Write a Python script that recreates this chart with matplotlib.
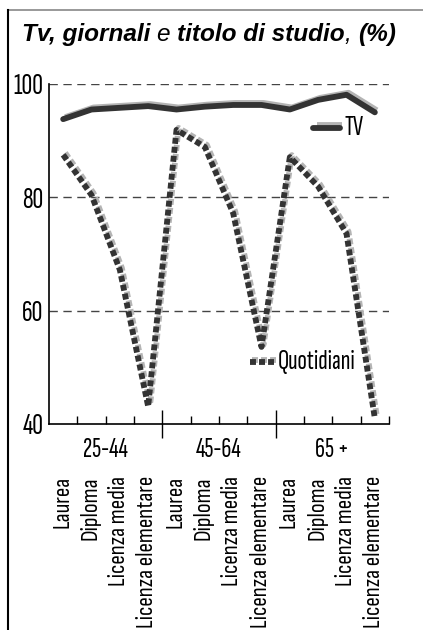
import matplotlib
matplotlib.use("Agg")
import matplotlib.pyplot as plt
import matplotlib.transforms as mtransforms
from matplotlib.lines import Line2D
import numpy as np

# ---- data -------------------------------------------------------------
age_groups = ["25-44", "45-64", "65 +"]
education = ["Laurea", "Diploma", "Licenza media", "Licenza elementare"]
tv = [93.8, 95.5, 95.8, 96.1, 95.5, 96.0, 96.3, 96.3, 95.5, 97.2, 98.1, 95.0]
quotidiani = [87.5, 80.4, 67.2, 43.1, 91.9, 88.9, 77.2, 53.6, 87.1, 81.9, 73.6, 41.0]
y_ticks = [40, 60, 80, 100]

NARROW = ["Sofia Sans Condensed", "PT Sans Narrow", "DejaVu Sans"]
XNARROW = ["Sofia Sans Extra Condensed", "Sofia Sans Condensed", "DejaVu Sans"]
DARK = "#333333"
SHADE = "#b4b4b4"

plt.rcParams["lines.scale_dashes"] = False

fig = plt.figure(figsize=(4.23, 6.30), dpi=100)
W, H = 423, 630
ax = fig.add_axes([49 / W, 1 - 424 / H, 340 / W, 340 / H])

labels = education * len(age_groups)
x = np.arange(len(labels))

shadow = mtransforms.offset_copy(ax.transData, fig=fig, x=2, y=2, units="dots")

# TV: solid line with a light shadow
ax.plot(x, tv, color=SHADE, lw=4.2, transform=shadow, solid_capstyle="butt", zorder=3)
ax.plot(x, tv, color=DARK, lw=4.2, solid_capstyle="round", zorder=4)

# Quotidiani: dashed line with a dashed light shadow
ax.plot(x, quotidiani, color=SHADE, lw=4.2, transform=shadow,
        dashes=(4.3, 2.2), dash_capstyle="butt", zorder=3)
ax.plot(x, quotidiani, color=DARK, lw=4.2,
        dashes=(4.3, 2.2), dash_capstyle="butt", zorder=4)

ax.set_xlim(-0.5, len(labels) - 0.5)
ax.set_ylim(40, 100)

# horizontal dashed grid
for v in y_ticks[1:]:
    ax.axhline(v, color="#444444", lw=1.0, dashes=(6, 4), zorder=1)

for s in ("top", "right"):
    ax.spines[s].set_visible(False)
for s in ("left", "bottom"):
    ax.spines[s].set_color("black")
    ax.spines[s].set_linewidth(1.2)

ax.set_yticks(y_ticks)
ax.set_yticklabels([str(v) for v in y_ticks], family=XNARROW, fontsize=21.5)
ax.tick_params(axis="y", length=0, pad=4)

# category boundaries: short inward ticks, group boundaries extend outward
bounds = np.arange(1, len(labels) + 1) - 0.5
ax.set_xticks(bounds, minor=True)
ax.tick_params(axis="x", which="minor", direction="in", length=6, width=1.0, color="black")
ax.set_xticks([3.5, 7.5])
ax.set_xticklabels([])
ax.tick_params(axis="x", which="major", direction="inout", length=20, width=1.0, color="black")

# group labels
trans_x = mtransforms.blended_transform_factory(ax.transData, fig.transFigure)
for i, g in enumerate(age_groups):
    ax.text(i * 4 + 1.5, 1 - 450 / H, g, transform=trans_x, ha="center", va="center",
            family=XNARROW, fontsize=20)

# rotated education labels
for xi, lab in zip(x, labels):
    ax.text(xi - 0.05, 1 - 476 / H, lab, transform=trans_x, rotation=90,
            ha="center", va="top", family=NARROW, fontsize=16.8)

# legend entries
ax.add_line(Line2D([(317 - 49) / 340, (342 - 49) / 340], [(424 - 125) / 340] * 2,
                   transform=ax.transAxes, color=SHADE, lw=4.2, solid_capstyle="butt"))
ax.add_line(Line2D([(313 - 49) / 340, (340 - 49) / 340], [(424 - 128) / 340] * 2,
                   transform=ax.transAxes, color=DARK, lw=4.2, solid_capstyle="round"))
ax.text((344 - 49) / 340, (424 - 128) / 340, "TV", transform=ax.transAxes,
        ha="left", va="center", family=XNARROW, fontsize=20)

ax.add_line(Line2D([(252 - 49) / 340, (276 - 49) / 340], [(424 - 360) / 340] * 2,
                   transform=ax.transAxes, color=SHADE, lw=4.2, dashes=(4.3, 2.2)))
ax.add_line(Line2D([(250 - 49) / 340, (274 - 49) / 340], [(424 - 362) / 340] * 2,
                   transform=ax.transAxes, color=DARK, lw=4.2, dashes=(4.3, 2.2)))
ax.text((278 - 49) / 340, (424 - 362) / 340, "Quotidiani", transform=ax.transAxes,
        ha="left", va="center", family=XNARROW, fontsize=20)

# title in mixed weights
title_parts = [("Tv, giornali ", "bold"), ("e ", "normal"),
               ("titolo di studio", "bold"), (", ", "normal"), ("(%)", "bold")]
prev = None
for txt, wt in title_parts:
    kw = dict(family=["Liberation Sans", "DejaVu Sans"], fontsize=17.6,
              fontstyle="italic", fontweight=wt, va="bottom", ha="left")
    if prev is None:
        prev = fig.text(22 / W, 1 - 46 / H, txt, **kw)
    else:
        prev = ax.annotate(txt, xy=(1, 0), xycoords=prev, annotation_clip=False, **kw)

# frame: gray top rule and black left rule
fig.add_artist(Line2D([8 / W, 1], [1 - 10 / H] * 2, transform=fig.transFigure,
                      color="#888888", lw=1.2))
fig.add_artist(Line2D([8 / W] * 2, [0, 1 - 10 / H], transform=fig.transFigure,
                      color="black", lw=1.5))

fig.savefig("out.png", dpi=100)
